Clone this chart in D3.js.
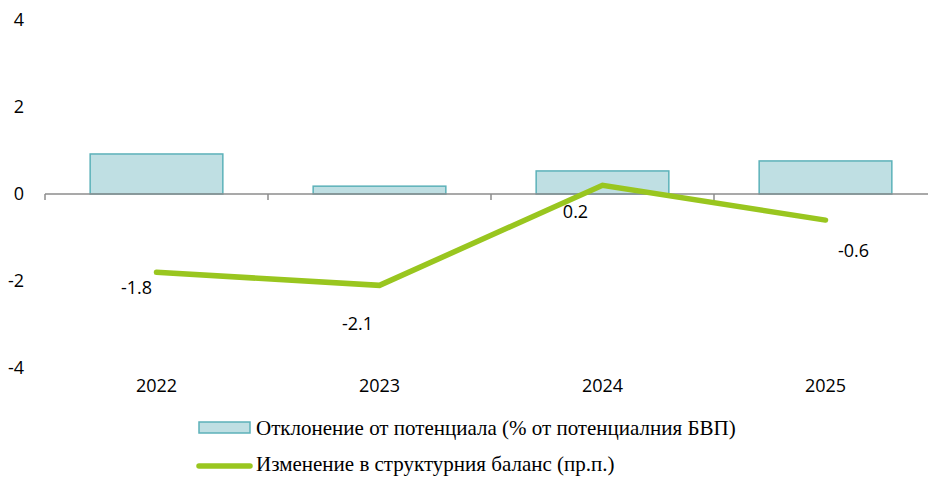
<!DOCTYPE html>
<html>
<head>
<meta charset="utf-8">
<script src="https://cdn.jsdelivr.net/npm/d3@7"></script>
<style>
  body { margin: 0; background: #fff; }
  svg { display: block; }
</style>
</head>
<body>
<svg id="chart"></svg>
<script>
var width = 928, height = 477

// data
var years = ["2022", "2023", "2024", "2025"]
var gap = [0.92, 0.18, 0.53, 0.76]
var balance = [-1.8, -2.1, 0.2, -0.6]
var yTicks = [-4, -2, 0, 2, 4]
var seriesNames = ["Отклонение от потенциала (% от потенциалния БВП)", "Изменение в структурния баланс (пр.п.)"]

// label nudges (px), placed by hand in the original
var labelShift = [[-20, 15], [-22, 38], [-27, 26], [28, 31]]

var svg = d3.select("#chart")
    .attr("width", width)
    .attr("height", height)

var x = d3.scaleBand()
    .domain(years)
    .range([45, 937])
    .paddingInner(0.405)
    .paddingOuter(0.2025)

var y = d3.scaleLinear()
    .domain([-4, 4])
    .range([368, 20])

var labelFont = "'Open Sans', sans-serif"

// y tick labels (no axis line)
svg.append("g").selectAll("text")
    .data(yTicks)
    .enter().append("text")
    .attr("x", 24)
    .attr("y", d => y(d))
    .attr("dy", "0.35em")
    .attr("text-anchor", "end")
    .style("font-family", labelFont)
    .style("font-size", "18px")
    .attr("fill", "#000")
    .text(d => d)

// bars
svg.append("g").selectAll("rect")
    .data(gap)
    .enter().append("rect")
    .attr("x", (d, i) => x(years[i]))
    .attr("width", x.bandwidth())
    .attr("y", d => y(Math.max(0, d)))
    .attr("height", d => Math.abs(y(d) - y(0)))
    .attr("fill", "#bfdfe3")
    .attr("stroke", "#5cb1b9")
    .attr("stroke-width", 1.5)

// zero axis with category ticks
var xAxis = svg.append("g")
    .attr("transform", "translate(0," + y(0) + ")")
xAxis.append("line")
    .attr("x1", 45).attr("x2", 937)
    .attr("stroke", "#8c8c8c").attr("stroke-width", 1.5)
var step = x.step()
xAxis.selectAll(".tick")
    .data(d3.range(years.length + 1))
    .enter().append("line")
    .attr("x1", i => 45 + i * step)
    .attr("x2", i => 45 + i * step)
    .attr("y1", 0).attr("y2", 6)
    .attr("stroke", "#8c8c8c").attr("stroke-width", 1.5)

// category labels
svg.append("g").selectAll("text")
    .data(years)
    .enter().append("text")
    .attr("x", d => x(d) + x.bandwidth() / 2)
    .attr("y", 386)
    .attr("dy", "0.35em")
    .attr("text-anchor", "middle")
    .style("font-family", labelFont)
    .style("font-size", "18px")
    .text(d => d)

// line
var line = d3.line()
    .x((d, i) => x(years[i]) + x.bandwidth() / 2)
    .y(d => y(d))

svg.append("path")
    .datum(balance)
    .attr("d", line)
    .attr("fill", "none")
    .attr("stroke", "#99c61f")
    .attr("stroke-width", 5.5)
    .attr("stroke-linecap", "round")
    .attr("stroke-linejoin", "miter")

// value labels
svg.append("g").selectAll("text")
    .data(balance)
    .enter().append("text")
    .attr("x", (d, i) => x(years[i]) + x.bandwidth() / 2 + labelShift[i][0])
    .attr("y", (d, i) => y(d) + labelShift[i][1])
    .attr("dy", "0.35em")
    .attr("text-anchor", "middle")
    .style("font-family", labelFont)
    .style("font-size", "18px")
    .text(d => d.toFixed(1))

// legend
var legend = svg.append("g")
legend.append("rect")
    .attr("x", 199).attr("y", 422)
    .attr("width", 51).attr("height", 11)
    .attr("fill", "#bfdfe3")
    .attr("stroke", "#5cb1b9")
    .attr("stroke-width", 1.5)
legend.append("line")
    .attr("x1", 199).attr("x2", 250)
    .attr("y1", 466).attr("y2", 466)
    .attr("stroke", "#99c61f")
    .attr("stroke-width", 5.5)
    .attr("stroke-linecap", "round")
legend.selectAll("text")
    .data(seriesNames)
    .enter().append("text")
    .attr("x", 256)
    .attr("y", (d, i) => i == 0 ? 428 : 464)
    .attr("dy", "0.35em")
    .style("font-family", "'Liberation Serif', 'Times New Roman', serif")
    .style("font-size", "21px")
    .text(d => d)
</script>
</body>
</html>
